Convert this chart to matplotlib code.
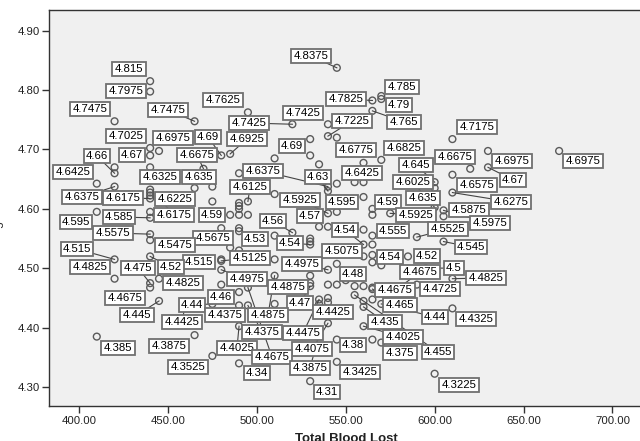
import matplotlib
matplotlib.use("Agg")
import matplotlib.pyplot as plt

# ---------------- data ----------------
# labelled points: Total Blood Lost (x) and value (y, also shown as label)
lab_x = [545, 440, 570, 440, 565, 495, 570, 420, 465, 540,
         540, 565, 520, 610, 440, 480, 445, 485, 530, 570,
         560, 420, 440, 470, 620, 630, 670, 600, 410, 545,
         440, 465, 540, 540, 630, 600, 610, 495, 420, 440,
         440, 600, 610, 540, 545, 565, 605, 575, 445, 485,
         535, 440, 520, 410, 605, 560, 565, 590, 440, 480,
         490, 530, 440, 605, 420, 545, 565, 585, 480, 480,
         540, 420, 440, 440, 595, 580, 550, 610, 480, 445,
         530, 565, 590, 490, 440, 530, 475, 565, 570, 610,
         540, 445, 490, 510, 460, 560, 495, 535, 560, 545,
         465, 410, 490, 540, 570, 555, 495, 475, 535, 545,
         490, 600, 530]
lab_y = [4.8375, 4.815, 4.785, 4.7975, 4.7825, 4.7625, 4.79, 4.7475, 4.7475, 4.7425,
         4.7225, 4.765, 4.7425, 4.7175, 4.7025, 4.69, 4.6975, 4.6925, 4.69, 4.6825,
         4.6775, 4.66, 4.67, 4.6675, 4.6675, 4.6975, 4.6975, 4.645, 4.6425, 4.6425,
         4.6325, 4.635, 4.63, 4.6375, 4.67, 4.6025, 4.6575, 4.6125, 4.6375, 4.6175,
         4.6225, 4.635, 4.6275, 4.5925, 4.595, 4.59, 4.5875, 4.5925, 4.6175, 4.59,
         4.57, 4.585, 4.56, 4.595, 4.5975, 4.54, 4.555, 4.5525, 4.5575, 4.5675,
         4.53, 4.54, 4.5475, 4.545, 4.515, 4.5075, 4.54, 4.52, 4.5125, 4.515,
         4.4975, 4.4825, 4.475, 4.52, 4.5, 4.4675, 4.48, 4.4825, 4.4975, 4.4825,
         4.4875, 4.4675, 4.4725, 4.46, 4.4675, 4.47, 4.44, 4.465, 4.44, 4.4325,
         4.4425, 4.445, 4.4375, 4.4875, 4.4425, 4.435, 4.4375, 4.4475, 4.4025, 4.38,
         4.3875, 4.385, 4.4025, 4.4075, 4.375, 4.455, 4.4675, 4.3525, 4.3875, 4.3425,
         4.34, 4.3225, 4.31]
# label box centres (figure pixels from top-left)
lab_px = [311, 129, 402, 126, 346, 223, 399, 90, 168, 303,
          352, 404, 249, 477, 126, 208, 173, 247, 292, 404,
          356, 97, 132, 197, 455, 512, 583, 416, 73, 362,
          160, 199, 318, 263, 513, 413, 477, 250, 82, 123,
          175, 423, 511, 300, 342, 388, 469, 416, 174, 212,
          310, 119, 273, 76, 490, 345, 393, 448, 113, 213,
          255, 290, 175, 471, 77, 342, 390, 427, 250, 199,
          302, 90, 138, 171, 454, 420, 353, 486, 247, 183,
          288, 395, 440, 221, 125, 300, 192, 400, 435, 476,
          333, 137, 225, 268, 182, 385, 262, 303, 403, 353,
          169, 118, 237, 312, 400, 438, 272, 188, 310, 360,
          257, 459, 327]
lab_py = [56, 69, 87, 91, 99, 100, 105, 109, 110, 113,
          121, 122, 123, 127, 136, 137, 138, 139, 146, 148,
          150, 156, 155, 155, 157, 161, 161, 165, 172, 173,
          177, 177, 177, 171, 180, 182, 185, 187, 197, 198,
          199, 198, 202, 200, 202, 202, 210, 215, 215, 215,
          216, 217, 221, 222, 223, 230, 231, 229, 233, 238,
          239, 243, 245, 247, 249, 251, 257, 256, 258, 262,
          264, 267, 268, 267, 268, 272, 274, 278, 279, 283,
          287, 290, 289, 297, 298, 303, 305, 305, 317, 319,
          312, 315, 315, 315, 322, 322, 332, 333, 337, 345,
          346, 348, 348, 349, 353, 352, 357, 367, 368, 372,
          373, 385, 392]

# unlabelled points
pt_x = [545, 530, 440, 420, 440, 475, 510, 535, 555, 560,
        560, 490, 510, 490, 490, 490, 490, 495, 475, 565,
        490, 490, 540, 530, 530, 485, 510, 510, 560, 565,
        565, 570, 540, 545, 555, 560, 530, 480, 560, 565,
        540, 535, 510, 565, 440, 560]
pt_y = [4.72, 4.7175, 4.69, 4.67, 4.6275, 4.6375, 4.685, 4.675, 4.645, 4.645,
        4.62, 4.66, 4.625, 4.61, 4.605, 4.60, 4.59, 4.59, 4.6125, 4.60,
        4.5675, 4.5625, 4.57, 4.55, 4.545, 4.535, 4.555, 4.515, 4.52, 4.5225,
        4.51, 4.505, 4.4725, 4.4725, 4.47, 4.47, 4.475, 4.4725, 4.445, 4.4475,
        4.45, 4.44, 4.44, 4.38, 4.595, 4.565]

x_ticks = [400, 450, 500, 550, 600, 650, 700]
y_ticks = [4.30, 4.40, 4.50, 4.60, 4.70, 4.80, 4.90]
x_title = "Total Blood Lost"
y_title = "Hemoglobin"

# ---------------- figure ----------------
W, H = 640, 441
FONT = ["Liberation Sans", "DejaVu Sans"]
plt.rcParams["font.family"] = FONT

fig = plt.figure(figsize=(W / 100, H / 100), dpi=100)
fig.patch.set_facecolor("white")
L, R, B, T = 49.3, 645, 406, 10
ax = fig.add_axes([L / W, 1 - B / H, (R - L) / W, (B - T) / H])
ax.set_facecolor("#f0f0f0")
ax.set_xlim(383.3, 718.3)
ax.set_ylim(4.2682, 4.9348)

for s in ["left", "bottom", "top"]:
    ax.spines[s].set_color("#333333")
    ax.spines[s].set_linewidth(1.0)
ax.spines["right"].set_visible(False)

ax.set_xticks(x_ticks)
ax.set_xticklabels([f"{v:.2f}" for v in x_ticks])
ax.set_yticks(y_ticks)
ax.set_yticklabels([f"{v:.2f}" for v in y_ticks])
ax.tick_params(direction="out", length=5, width=1, color="#333333",
               labelsize=8.2, labelcolor="#222222", pad=2)

mk = dict(s=24, facecolors="none", edgecolors="#5a5a5a", linewidths=1.0, zorder=2)
ax.scatter(pt_x, pt_y, **mk)
ax.scatter(lab_x, lab_y, **mk)

anns = []
for x, y, lpx, lpy in zip(lab_x, lab_y, lab_px, lab_py):
    a = ax.annotate(f"{y:g}", xy=(x, y), xytext=(lpx, H - lpy),
                    textcoords="figure pixels", ha="center", va="center",
                    fontsize=8.2, color="black", zorder=5, annotation_clip=False,
                    bbox=dict(boxstyle="square,pad=0.2", fc="white",
                              ec="#707070", lw=1.3))
    anns.append(a)

fig.canvas.draw()
inv = ax.transData.inverted()
for a, x, y, lpx, lpy in zip(anns, lab_x, lab_y, lab_px, lab_py):
    bb = a.get_bbox_patch().get_window_extent()
    p = ax.transData.transform((x, y))
    ex = 6
    inside = (bb.x0 - ex <= p[0] <= bb.x1 + ex) and (bb.y0 - ex <= p[1] <= bb.y1 + ex)
    if not inside:
        lx, ly = inv.transform((lpx, H - lpy))
        ax.plot([x, lx], [y, ly], color="#444444", lw=0.8, zorder=3, clip_on=False)

fig.text(346 / W, -1.5 / H, x_title, ha="center", va="baseline",
         fontsize=9.5, fontweight="bold", color="#222222")
fig.text(3.0 / W, 1 - 227 / H, y_title, rotation=90, ha="right", va="center",
         fontsize=9, color="#333333")

fig.savefig("out.png", dpi=100)
